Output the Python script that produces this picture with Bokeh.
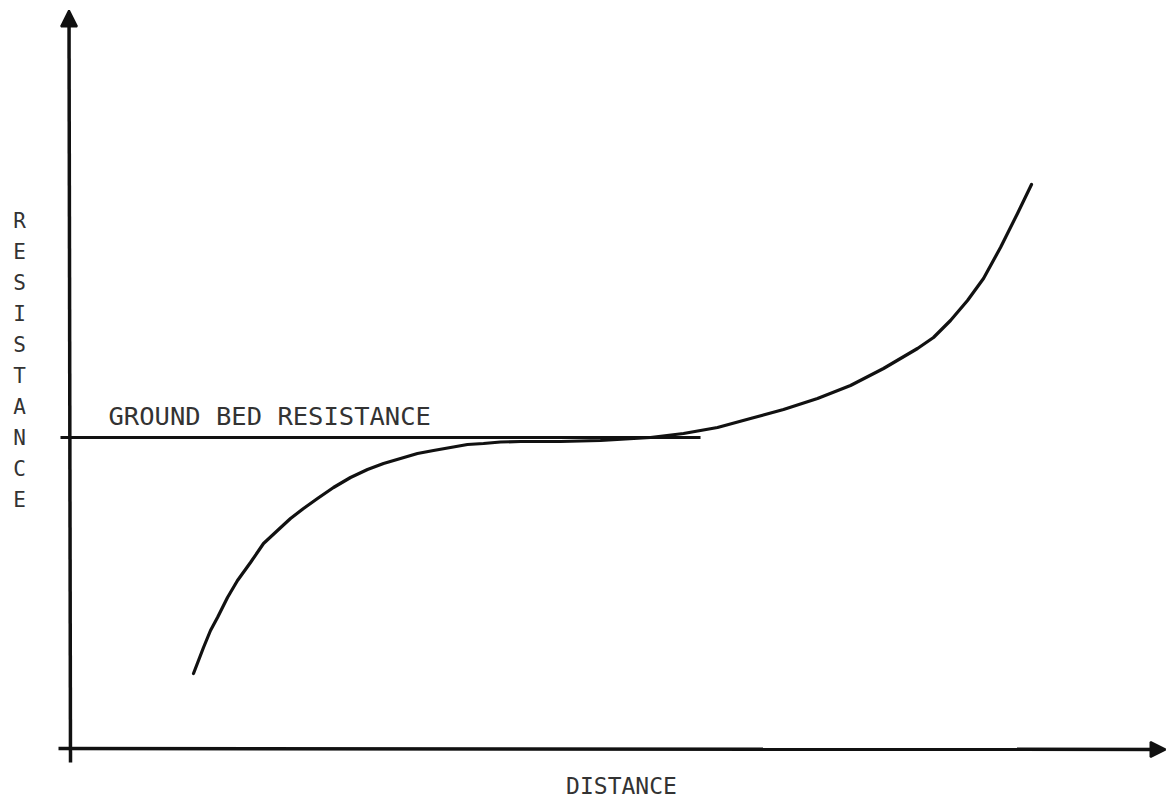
from bokeh.plotting import figure
from bokeh.models import Range1d, Arrow, NormalHead
from bokeh.core.properties import value
from bokeh.embed import file_html
from bokeh.resources import INLINE

# ---- data (arbitrary units: distance along x, resistance along y) ----
distance = [12.3, 12.8, 13.3, 14.0, 14.7, 15.7, 16.7, 18.0, 19.3, 20.7, 22.0, 23.3,
            24.7, 26.3, 28.0, 29.7, 31.3, 33.0, 34.7, 36.3, 38.0, 39.7, 41.3, 43.0,
            45.0, 49.0, 53.0, 58.0, 61.3, 64.7, 68.0, 71.3, 74.7, 78.0, 81.3, 84.7,
            86.3, 88.0, 89.7, 91.3, 93.0, 94.7, 96.1]
resistance = [7.5, 8.8, 10.1, 11.8, 13.1, 15.1, 16.8, 18.6, 20.5, 21.8, 23.0, 24.0,
              25.0, 26.1, 27.1, 27.9, 28.5, 29.0, 29.5, 29.8, 30.1, 30.4, 30.5, 30.65,
              30.7, 30.7, 30.8, 31.1, 31.5, 32.1, 33.0, 33.9, 35.0, 36.3, 38.0, 40.0,
              41.1, 42.8, 44.8, 47.0, 50.1, 53.5, 56.4]
ground_bed_resistance = 31.1
ground_bed_span = [-1.0, 63.0]
ground_bed_label = "GROUND BED RESISTANCE"
x_label = "DISTANCE"
y_label_letters = list("RESISTANCE")

FONT = value("DejaVu Sans Mono")
INK = "#111111"
TXT = "#333333"

p = figure(width=1170, height=798, output_backend="svg", toolbar_location=None,
           x_range=Range1d(-7.0, 110.0), y_range=Range1d(-5.0, 74.8),
           min_border=0, min_border_left=0, min_border_right=0,
           min_border_top=0, min_border_bottom=0)
p.axis.visible = False
p.grid.visible = False
p.outline_line_color = None
p.background_fill_color = "white"
p.border_fill_color = "white"

# axes drawn as arrows
p.add_layout(Arrow(end=NormalHead(size=16, fill_color=INK, line_color=INK, line_width=2),
                   x_start=0.0, y_start=-1.4, x_end=-0.15, y_end=73.8,
                   line_color=INK, line_width=3.5))
p.add_layout(Arrow(end=NormalHead(size=15, fill_color=INK, line_color=INK, line_width=2),
                   x_start=-1.2, y_start=0.0, x_end=109.5, y_end=-0.1,
                   line_color=INK, line_width=3.5))

# ground bed resistance level
p.line(ground_bed_span, [ground_bed_resistance, ground_bed_resistance],
       line_color=INK, line_width=3)

# resistance curve
p.line(distance, resistance, line_color=INK, line_width=3.2, line_join="round", line_cap="round")

# labels
p.text(x=[3.8], y=[33.3], text=[ground_bed_label], text_font=FONT, text_font_size="25.5px",
       text_color=TXT, text_baseline="alphabetic", text_align="left")
p.text(x=[55.1], y=[-3.7], text=[x_label], text_font=FONT, text_font_size="23px",
       text_color=TXT, text_baseline="middle", text_align="center")

letter_y = [(748 - (220 + 31 * i)) / 10 for i in range(len(y_label_letters))]
p.text(x=[-5.1] * len(y_label_letters), y=letter_y, text=y_label_letters, text_font=FONT,
       text_font_size="21px", text_color=TXT, text_baseline="middle", text_align="center")

open("out.html", "w").write(file_html(p, INLINE))
